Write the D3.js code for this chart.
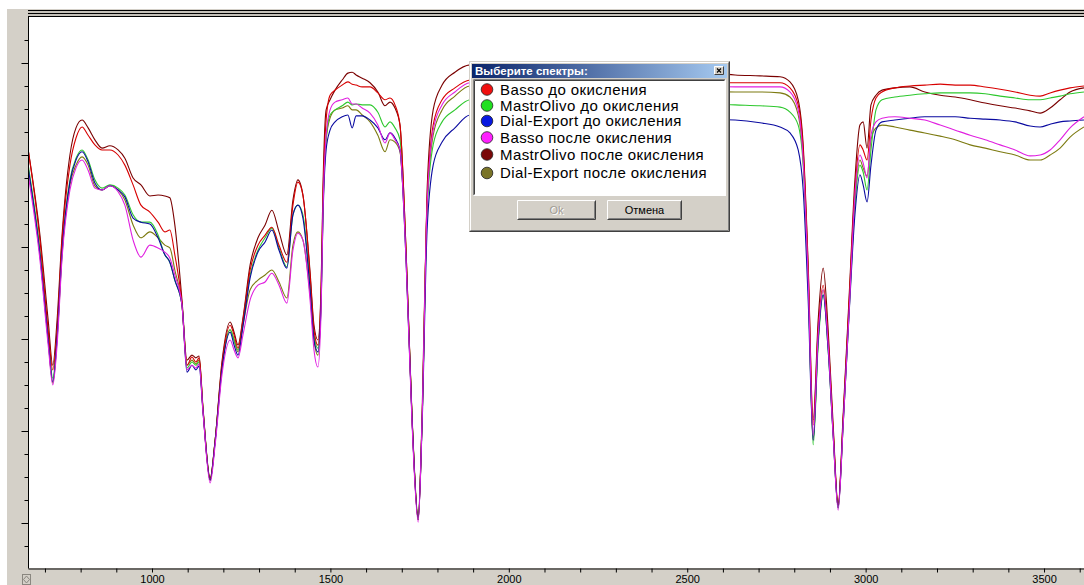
<!DOCTYPE html>
<html>
<head>
<meta charset="utf-8">
<script src="https://cdn.jsdelivr.net/npm/d3@7"></script>
<style>
  html, body { margin: 0; padding: 0; background: #ffffff; overflow: hidden; }
  svg { display: block; }
</style>
</head>
<body>
<svg id="chart" width="1084" height="585"></svg>
<script>
// Wavenumber grid, cm-1
const wavenumbers = [653,686,709,722,734,748,770,787,804,821,840,860,882,905,924,947,969,994,1017,1036,1050,1064,1084,1098,1112,1123,1132,1143,1163,1177,1196,1219,1230,1241,1255,1275,1297,1317,1336,1356,1378,1395,1409,1423,1443,1454,1465,1474,1479,1488,1499,1513,1533,1549,1561,1572,1589,1611,1633,1653,1667,1681,1695,1712,1729,1746,1757,1771,1788,1813,1849,1891,2116,2396,2634,2704,2760,2788,2811,2825,2839,2853,2867,2881,2895,2909,2923,2937,2954,2970,2984,2993,3004,3015,3029,3046,3082,3124,3166,3209,3251,3293,3335,3377,3419,3461,3489,3517,3545,3573,3612];

// Transmittance, %
const bassoBefore = [81.1,61.5,42.0,33.3,42.0,61.5,77.8,83.7,86.1,84.3,82.2,81.1,81.1,80.0,77.8,73.5,69.1,67.6,65.4,63.3,63.7,58.3,47.8,34.3,36.1,35.0,35.9,24.6,9.3,18.0,34.3,43.0,40.9,38.0,44.1,55.0,60.4,62.6,64.3,60.4,56.7,69.1,74.1,71.3,53.9,42.0,38.7,50.7,70.2,87.6,93.0,94.1,95.2,95.9,95.4,95.2,94.8,94.8,93.5,92.0,92.4,90.9,86.5,59.3,22.4,0.7,22.4,70.2,86.5,92.0,94.6,96.3,97.4,97.0,95.7,95.7,95.7,94.6,90.9,81.1,55.0,21.3,42.0,51.7,39.8,20.2,3.9,22.4,48.5,72.4,82.2,81.1,78.9,87.6,92.4,93.7,94.6,95.0,95.2,95.4,95.2,95.2,94.8,94.3,93.7,93.0,92.8,93.5,94.1,94.6,95.0];
const mastrOlivoBefore = [77.8,59.3,40.9,31.5,40.9,59.3,74.6,79.3,81.1,78.9,74.6,72.8,73.5,72.8,71.3,67.0,65.4,65.4,62.6,58.3,56.7,52.8,47.4,33.7,35.0,34.3,35.0,24.6,9.3,18.0,33.7,42.0,39.8,37.6,43.7,53.9,59.3,62.0,64.1,59.8,55.7,67.0,69.1,67.0,51.7,40.9,38.0,48.5,68.0,83.3,88.7,89.8,90.7,91.5,90.9,91.1,90.9,90.9,89.3,86.1,87.2,85.9,83.3,58.3,22.4,1.1,22.4,68.0,82.2,87.2,89.8,92.0,93.0,92.0,90.9,90.7,90.4,89.3,86.5,77.8,52.8,17.0,38.7,49.6,37.6,19.1,3.3,21.3,46.3,69.1,77.8,76.3,72.4,81.1,89.8,92.0,92.6,93.0,93.3,93.5,93.5,93.5,93.3,92.8,92.4,92.0,92.0,92.4,92.8,93.3,93.7];
const dialExportBefore = [77.2,58.3,39.8,30.7,40.2,58.9,74.1,78.9,80.7,78.5,73.9,72.4,73.3,72.4,70.9,66.3,65.4,65.0,62.0,58.3,56.7,52.8,47.4,32.8,34.3,33.3,34.1,24.1,9.3,17.6,33.3,41.5,38.7,36.5,42.8,53.3,58.9,61.1,63.7,59.3,55.4,67.0,69.1,66.3,50.7,39.8,37.2,47.4,65.9,81.1,85.4,87.2,88.3,88.7,85.9,88.5,88.5,87.6,85.9,83.3,84.8,83.7,81.1,57.2,22.0,0.7,21.3,63.7,77.8,82.8,85.9,88.7,89.3,88.0,87.6,87.0,86.1,84.8,81.1,72.4,48.5,18.0,39.8,49.6,37.6,19.1,3.3,21.3,45.9,67.0,75.7,73.5,69.8,77.8,85.4,87.2,87.6,88.0,88.3,88.3,88.3,88.0,87.8,87.6,87.2,86.3,86.1,86.7,87.2,87.4,87.6];
const bassoAfter = [75.7,57.2,38.7,30.0,38.7,57.6,72.4,77.2,78.9,76.7,72.8,72.4,73.3,72.0,69.1,61.5,57.8,60.4,59.8,58.9,57.6,53.9,47.4,33.3,34.3,33.7,34.6,24.1,8.7,17.0,32.2,39.8,37.6,35.9,40.9,48.5,51.7,52.4,54.3,51.7,47.8,59.3,63.0,61.5,48.5,37.6,33.9,46.3,67.0,84.3,89.8,91.5,92.0,92.4,91.1,91.1,90.2,89.1,86.5,82.6,84.8,83.3,81.1,57.2,21.3,0.2,22.4,69.1,85.4,90.9,93.7,95.7,96.3,95.9,94.8,94.8,94.8,93.7,89.8,78.9,52.8,19.1,40.9,50.7,38.7,19.1,2.8,21.3,46.3,71.3,80.0,78.3,75.0,84.3,87.2,88.0,88.3,88.0,87.6,86.5,85.4,84.3,83.3,82.2,81.1,79.8,80.0,81.1,83.3,85.9,88.3];
const mastrOlivoAfter = [81.1,62.6,44.1,34.3,44.1,62.6,80.0,85.9,87.6,85.9,83.3,81.5,82.0,81.1,79.3,75.0,73.5,71.1,71.3,71.1,70.7,64.8,48.5,35.4,36.5,35.9,36.3,25.0,9.8,18.0,35.0,43.7,41.5,38.7,44.6,56.1,62.0,64.8,68.0,63.3,58.3,70.2,74.6,71.3,54.6,43.0,39.8,51.7,72.4,89.8,92.0,94.1,96.3,97.8,98.0,97.4,96.7,95.7,93.7,90.7,91.5,90.2,86.5,59.3,22.8,1.5,23.5,72.4,89.8,95.2,98.0,99.6,100.2,99.6,97.4,97.2,97.0,95.9,92.0,82.2,56.1,22.4,44.1,55.4,42.0,21.3,3.9,23.5,49.6,74.6,86.5,87.2,81.5,90.9,93.0,94.1,94.6,94.8,93.7,93.0,92.6,92.0,91.3,90.7,90.2,89.6,89.1,90.2,92.0,93.7,94.6];
const dialExportAfter = [76.7,58.3,39.8,30.4,39.8,58.3,73.5,77.8,79.6,77.8,73.3,72.4,73.3,72.4,70.2,64.8,62.0,63.3,62.0,60.4,59.8,55.0,47.4,34.3,35.4,34.6,35.4,24.6,9.8,18.0,33.7,42.0,39.8,37.2,43.0,50.7,52.8,53.9,55.0,52.4,48.9,60.4,63.3,61.5,49.6,39.8,36.5,48.5,67.0,83.3,88.0,89.8,90.2,90.7,89.8,89.8,88.7,87.2,84.3,80.7,83.3,82.8,80.7,58.3,22.4,0.7,22.4,69.1,84.3,89.8,92.8,95.0,95.4,94.6,93.7,93.7,93.5,92.6,88.7,78.9,52.8,18.0,39.8,50.7,38.7,19.8,3.3,22.4,47.4,70.2,78.9,77.2,75.4,83.3,85.9,86.5,86.1,85.4,84.8,84.1,83.3,82.2,81.5,80.7,80.0,78.9,78.9,80.0,81.5,83.9,86.1];

const seriesNames = [
  "Basso до окисления",
  "MastrOlivo до окисления",
  "Dial-Export до окисления",
  "Basso после окисления",
  "MastrOlivo после окисления",
  "Dial-Export после окисления"
];
const seriesValues = [bassoBefore, mastrOlivoBefore, dialExportBefore, bassoAfter, mastrOlivoAfter, dialExportAfter];
const lineColors = ["#d80000", "#2ec82e", "#0a0aa0", "#e020e0", "#7a0000", "#7c7a10"];
const markerColors = ["#f01010", "#20e020", "#0818e0", "#ff20ff", "#7a0808", "#7a7428"];
const drawOrder = [5, 4, 1, 0, 2, 3];

const xTickLabels = [1000, 1500, 2000, 2500, 3000, 3500];

const svg = d3.select("#chart");
const W = 1084, H = 585;
const plot = { left: 28, right: 1084, top: 17, bottom: 568 };

// Window chrome around the plot
svg.append("rect").attr("x", 7).attr("y", 9).attr("width", W - 7).attr("height", H - 9).attr("fill", "#d4d0c8");
svg.append("rect").attr("x", plot.left).attr("y", plot.top)
  .attr("width", plot.right - plot.left).attr("height", plot.bottom - plot.top).attr("fill", "#ffffff");
[10.5, 13.5, 16.5].forEach(yy => {
  svg.append("line").attr("x1", plot.left).attr("x2", W).attr("y1", yy).attr("y2", yy)
    .attr("stroke", "#000").attr("stroke-width", 1);
});
svg.append("rect").attr("x", plot.left).attr("y", 11).attr("width", W - plot.left).attr("height", 2).attr("fill", "#c4c0b8");
svg.append("rect").attr("x", plot.left).attr("y", 14).attr("width", W - plot.left).attr("height", 2).attr("fill", "#c4c0b8");

const x = d3.scaleLinear().domain([652.5, 3612]).range([plot.left, plot.right]);
const y = d3.scaleLinear().domain([-9.78, 110]).range([plot.bottom, plot.top]);

// Spectra
svg.append("clipPath").attr("id", "plotClip")
  .append("rect").attr("x", plot.left + 1).attr("y", plot.top)
  .attr("width", plot.right - plot.left - 1).attr("height", plot.bottom - plot.top);

const line = d3.line()
  .x((d, i) => x(wavenumbers[i]))
  .y(d => y(d))
  .curve(d3.curveMonotoneX);

const lines = svg.append("g").attr("clip-path", "url(#plotClip)");
drawOrder.forEach(k => {
  lines.append("path")
    .attr("d", line(seriesValues[k]))
    .attr("fill", "none")
    .attr("stroke", lineColors[k])
    .attr("stroke-width", 1.1)
    .attr("stroke-linejoin", "round");
});

// Y axis: minor every 5 %, major every 20 %
const yMinor = d3.range(-5, 110, 5).filter(v => v % 20 !== 0);
const yMajor = d3.range(0, 101, 20);
svg.append("g").attr("transform", `translate(${plot.left + 0.5},0)`)
  .call(d3.axisLeft(y).tickValues(yMinor).tickSize(4).tickSizeOuter(0).tickFormat(""))
  .call(g => g.select(".domain").remove())
  .call(g => g.selectAll("line").attr("stroke", "#000"));
svg.append("g").attr("transform", `translate(${plot.left + 0.5},0)`)
  .call(d3.axisLeft(y).tickValues(yMajor).tickSize(7).tickSizeOuter(0).tickFormat(""))
  .call(g => g.select(".domain").remove())
  .call(g => g.selectAll("line").attr("stroke", "#000"));
svg.append("line").attr("x1", plot.left + 0.5).attr("x2", plot.left + 0.5)
  .attr("y1", plot.top).attr("y2", plot.bottom + 0.5).attr("stroke", "#000");

// X axis
const xAxis = svg.append("g").attr("transform", `translate(0,${plot.bottom + 0.5})`)
  .call(d3.axisBottom(x).tickValues(d3.range(700, 3700, 100)).tickSize(4).tickSizeOuter(0).tickPadding(3)
    .tickFormat(d => xTickLabels.includes(d) ? String(d) : ""));
xAxis.select(".domain").attr("stroke", "#000");
xAxis.selectAll("line").attr("stroke", "#000");
xAxis.selectAll("text").attr("font-family", "Liberation Sans, Arial, sans-serif")
  .attr("font-size", 11).attr("fill", "#000");

// Small corner glyph
const glyph = svg.append("g").attr("transform", "translate(22,574)");
glyph.append("rect").attr("x", 0.5).attr("y", 0.5).attr("width", 8).attr("height", 10)
  .attr("fill", "none").attr("stroke", "#8a8780");
glyph.append("path").attr("d", "M4.5,2 L7.5,5.5 L4.5,9 L1.5,5.5 Z").attr("fill", "none").attr("stroke", "#8a8780");

// Series picker dialog
const dlg = svg.append("g");
const dx = 469, dy = 61, dw = 261, dh = 171;
dlg.append("rect").attr("x", dx).attr("y", dy).attr("width", dw).attr("height", dh).attr("fill", "#d4d0c8");
// raised frame
dlg.append("path").attr("d", `M${dx + 0.5},${dy + dh - 0.5} V${dy + 0.5} H${dx + dw - 0.5}`)
  .attr("fill", "none").attr("stroke", "#d4d0c8");
dlg.append("path").attr("d", `M${dx + 0.5},${dy + dh - 0.5} H${dx + dw - 0.5} V${dy + 0.5}`)
  .attr("fill", "none").attr("stroke", "#404040");
dlg.append("path").attr("d", `M${dx + 1.5},${dy + dh - 1.5} V${dy + 1.5} H${dx + dw - 1.5}`)
  .attr("fill", "none").attr("stroke", "#ffffff");
dlg.append("path").attr("d", `M${dx + 1.5},${dy + dh - 1.5} H${dx + dw - 1.5} V${dy + 1.5}`)
  .attr("fill", "none").attr("stroke", "#808080");

// title bar
const grad = svg.append("defs").append("linearGradient").attr("id", "titleGrad")
  .attr("x1", "0%").attr("x2", "100%");
grad.append("stop").attr("offset", "0%").attr("stop-color", "#0a246a");
grad.append("stop").attr("offset", "100%").attr("stop-color", "#a6caf0");
dlg.append("rect").attr("x", dx + 3).attr("y", dy + 3).attr("width", dw - 6).attr("height", 14)
  .attr("fill", "url(#titleGrad)");
dlg.append("text").attr("x", dx + 6).attr("y", dy + 14)
  .attr("font-family", "Liberation Sans, Arial, sans-serif").attr("font-weight", "bold")
  .attr("font-size", 11.5).attr("fill", "#ffffff").text("Выберите спектры:");
// close box
const cb = dlg.append("g").attr("transform", `translate(${dx + dw - 16},${dy + 5})`);
cb.append("rect").attr("width", 10).attr("height", 9).attr("fill", "#d4d0c8");
cb.append("path").attr("d", "M0.5,8.5 V0.5 H9.5").attr("fill", "none").attr("stroke", "#ffffff");
cb.append("path").attr("d", "M0.5,8.5 H9.5 V0.5").attr("fill", "none").attr("stroke", "#404040");
cb.append("path").attr("d", "M3,2.5 L7,6.5 M7,2.5 L3,6.5").attr("stroke", "#000").attr("stroke-width", 1.1);

// list box
const lx = dx + 4, ly = dy + 18, lw = dw - 8, lh = 117;
dlg.append("rect").attr("x", lx).attr("y", ly).attr("width", lw).attr("height", lh).attr("fill", "#ffffff");
dlg.append("path").attr("d", `M${lx + 0.5},${ly + lh - 0.5} V${ly + 0.5} H${lx + lw - 0.5}`)
  .attr("fill", "none").attr("stroke", "#808080");
dlg.append("path").attr("d", `M${lx + 1.5},${ly + lh - 1.5} V${ly + 1.5} H${lx + lw - 1.5}`)
  .attr("fill", "none").attr("stroke", "#404040");
dlg.append("path").attr("d", `M${lx + 0.5},${ly + lh - 0.5} H${lx + lw - 0.5} V${ly + 0.5}`)
  .attr("fill", "none").attr("stroke", "#ffffff");

const itemY = [89.5, 105.5, 121, 137.5, 154.5, 173];
const items = dlg.selectAll("g.item").data(seriesNames).join("g").attr("class", "item")
  .attr("transform", (d, i) => `translate(${dx + 18},${itemY[i]})`);
items.append("circle").attr("r", 5.8)
  .attr("fill", (d, i) => markerColors[i]).attr("stroke", "#202020").attr("stroke-width", 0.8);
items.append("text").attr("x", 13).attr("y", 5.2)
  .attr("font-family", "Liberation Sans, Arial, sans-serif").attr("font-size", 15)
  .attr("letter-spacing", 0.4).attr("fill", "#000").text(d => d);

// buttons
function button(bx, by, bw, bh, label, enabled) {
  const b = dlg.append("g").attr("transform", `translate(${bx},${by})`);
  b.append("rect").attr("width", bw).attr("height", bh).attr("fill", "#d4d0c8");
  b.append("path").attr("d", `M0.5,${bh - 0.5} V0.5 H${bw - 0.5}`).attr("fill", "none").attr("stroke", "#ffffff");
  b.append("path").attr("d", `M0.5,${bh - 0.5} H${bw - 0.5} V0.5`).attr("fill", "none").attr("stroke", "#404040");
  b.append("path").attr("d", `M1.5,${bh - 1.5} H${bw - 1.5} V1.5`).attr("fill", "none").attr("stroke", "#808080");
  if (!enabled) {
    b.append("text").attr("x", bw / 2 + 1).attr("y", bh / 2 + 5)
      .attr("text-anchor", "middle").attr("font-family", "Liberation Sans, Arial, sans-serif")
      .attr("font-size", 11).attr("fill", "#ffffff").text(label);
  }
  b.append("text").attr("x", bw / 2).attr("y", bh / 2 + 4)
    .attr("text-anchor", "middle").attr("font-family", "Liberation Sans, Arial, sans-serif")
    .attr("font-size", 11).attr("fill", enabled ? "#000000" : "#a09c94").text(label);
}
button(517, 200, 79, 20, "Ok", false);
button(607, 200, 75, 20, "Отмена", true);
</script>
</body>
</html>
